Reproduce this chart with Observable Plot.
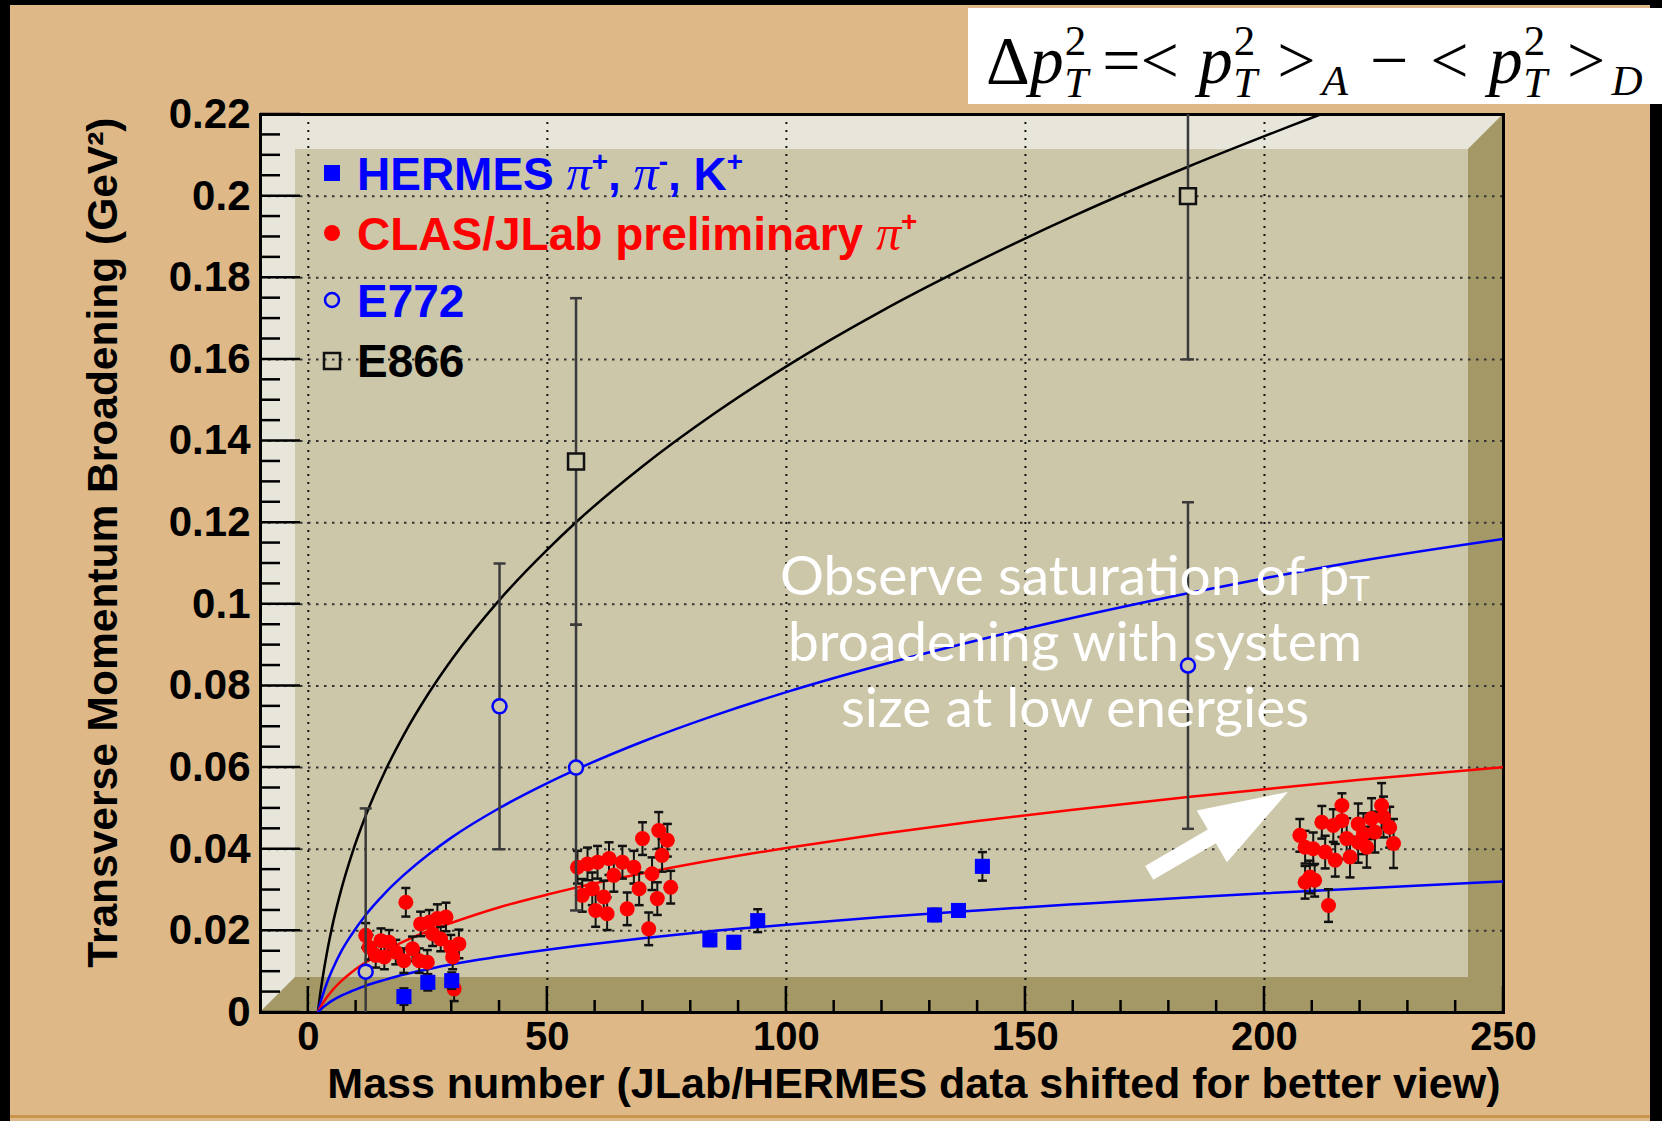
<!DOCTYPE html>
<html>
<head>
<meta charset="utf-8">
<script src="https://cdn.jsdelivr.net/npm/d3@7"></script>
<script src="https://cdn.jsdelivr.net/npm/@observablehq/plot@0.6"></script>
<style>
html, body { margin: 0; padding: 0; background: #000; overflow: hidden; }
#chart svg { display: block; }
</style>
</head>
<body>
<div id="chart"></div>
<script>
// ---------------- data ----------------
const xTicks = [0, 50, 100, 150, 200, 250];
const xTickLabels = ["0", "50", "100", "150", "200", "250"];
const yTicks = [0, 0.02, 0.04, 0.06, 0.08, 0.1, 0.12, 0.14, 0.16, 0.18, 0.2, 0.22];
const yTickLabels = ["0", "0.02", "0.04", "0.06", "0.08", "0.1", "0.12", "0.14", "0.16", "0.18", "0.2", "0.22"];
const xGrid = [0, 50, 100, 150, 200];
const yGrid = [0.02, 0.04, 0.06, 0.08, 0.1, 0.12, 0.14, 0.16, 0.18, 0.2];

const xTitle = "Mass number (JLab/HERMES data shifted for better view)";
const yTitle = "Transverse Momentum Broadening (GeV\u00B2)";

// HERMES pi+, pi-, K+ (blue squares)
const hermesA   = [20, 25, 30, 84, 89, 94, 131, 136, 141];
const hermesY   = [0.0039, 0.0074, 0.0078, 0.0178, 0.0172, 0.0225, 0.0239, 0.0250, 0.0358];
const hermesErr = [0.002, 0.002, 0.002, 0.0015, 0.0015, 0.0028, 0.0015, 0.0015, 0.0035];

// CLAS/JLab preliminary pi+ (red circles)
const clasA = [
  20.4, 12.0, 12.7, 15.2, 16.9, 14.1, 15.9, 18.3, 20.0, 21.8, 23.2, 24.9, 23.5, 25.3, 27.0, 28.8, 26.0, 27.7, 29.8, 31.5, 30.2, 30.5,
  73.3, 69.9, 75.1, 74.0, 56.3, 58.4, 60.5, 62.9, 65.7, 68.1, 63.9, 71.9, 59.4, 57.3, 61.8, 69.2, 75.8, 73.0, 60.1, 62.5, 66.7, 71.2,
  216.2, 212.0, 214.4, 216.2, 219.6, 222.4, 224.5, 224.9, 226.2, 207.4, 208.5, 210.2, 212.7, 214.8, 217.2, 217.9, 219.6, 221.4, 223.1, 227.0, 209.5, 210.5, 208.5, 213.4, 220.7
];
const clasY = [
  0.0270, 0.0189, 0.0160, 0.0176, 0.0172, 0.0140, 0.0136, 0.0148, 0.0127, 0.0156, 0.0127, 0.0123, 0.0217, 0.0221, 0.0230, 0.0234, 0.0193, 0.0180, 0.0160, 0.0168, 0.0136, 0.0058,
  0.0446, 0.0426, 0.0422, 0.0385, 0.0356, 0.0364, 0.0368, 0.0377, 0.0368, 0.0356, 0.0336, 0.0340, 0.0303, 0.0287, 0.0283, 0.0303, 0.0307, 0.0279, 0.0250, 0.0242, 0.0254, 0.0205,
  0.0507, 0.0466, 0.0458, 0.0470, 0.0462, 0.0475, 0.0507, 0.0479, 0.0454, 0.0434, 0.0405, 0.0401, 0.0393, 0.0373, 0.0426, 0.0381, 0.0417, 0.0405, 0.0442, 0.0414, 0.0332, 0.0324, 0.0319, 0.0262, 0.0438
];
const clasErr = [
  0.0035, 0.003, 0.003, 0.003, 0.003, 0.003, 0.003, 0.003, 0.003, 0.003, 0.003, 0.003, 0.003, 0.003, 0.0035, 0.0035, 0.003, 0.003, 0.003, 0.0035, 0.003, 0.003,
  0.0045, 0.004, 0.004, 0.004, 0.004, 0.004, 0.004, 0.004, 0.004, 0.004, 0.004, 0.004, 0.004, 0.004, 0.004, 0.004, 0.004, 0.004, 0.004, 0.004, 0.004, 0.004,
  0.003, 0.004, 0.004, 0.004, 0.005, 0.005, 0.0055, 0.005, 0.005, 0.004, 0.004, 0.004, 0.004, 0.004, 0.005, 0.005, 0.005, 0.005, 0.005, 0.006, 0.004, 0.004, 0.004, 0.004, 0.005
];

// E772 (open blue circles)
const e772A   = [12, 40, 56, 184];
const e772Y   = [0.010, 0.075, 0.060, 0.085];
const e772Err = [0.040, 0.035, 0.035, 0.040];

// E866 (open black squares)
const e866A   = [56, 184];
const e866Y   = [0.135, 0.200];
const e866Err = [0.040, 0.040];

// fitted curves
const fitA      = [2, 2.5, 3, 4, 5, 7, 9, 12, 16, 20, 25, 30, 40, 50, 56, 70, 85, 100, 120, 140, 160, 184, 200, 220, 250];
const fitE772   = [0, 0.0023, 0.0042, 0.0076, 0.0104, 0.0152, 0.0190, 0.0239, 0.0292, 0.0337, 0.0386, 0.0429, 0.0501, 0.0562, 0.0595, 0.0664, 0.0728, 0.0785, 0.0852, 0.0912, 0.0967, 0.1027, 0.1064, 0.1106, 0.1160];
const fitClas   = [0, 0.0012, 0.0022, 0.0039, 0.0054, 0.0078, 0.0098, 0.0123, 0.0150, 0.0174, 0.0199, 0.0220, 0.0258, 0.0289, 0.0306, 0.0341, 0.0374, 0.0403, 0.0438, 0.0469, 0.0497, 0.0528, 0.0547, 0.0570, 0.0601];
const fitHermes = [0, 0.0006, 0.0012, 0.0021, 0.0029, 0.0042, 0.0052, 0.0066, 0.0080, 0.0093, 0.0106, 0.0118, 0.0137, 0.0154, 0.0163, 0.0182, 0.0200, 0.0215, 0.0234, 0.0250, 0.0265, 0.0282, 0.0292, 0.0304, 0.0321];
const fitBlackA = [2, 2.5, 3, 4, 5, 7, 9, 12, 16, 20, 25, 30, 40, 50, 56, 70, 85, 100, 120, 140, 160, 184, 200, 211, 216];
const fitBlack  = [0, 0.0046, 0.0085, 0.0153, 0.0211, 0.0306, 0.0384, 0.0482, 0.0590, 0.0681, 0.0779, 0.0865, 0.1011, 0.1134, 0.1201, 0.1339, 0.1468, 0.1583, 0.1719, 0.1840, 0.1951, 0.2072, 0.2147, 0.2197, 0.2220];

// annotation arrow (data coordinates: tail -> tip)
const arrowFrom = [176, 0.0341];
const arrowTo   = [205, 0.0539];

// ---------------- tables ----------------
const rows = (a, y, e) => a.map((v, i) => ({a: v, y: y[i], lo: y[i] - e[i], hi: y[i] + e[i]}));
const hermes = rows(hermesA, hermesY, hermesErr);
const clas = rows(clasA, clasY, clasErr);
const e772 = rows(e772A, e772Y, e772Err);
const e866 = rows(e866A, e866Y, e866Err);
const curve = (a, v) => a.map((x, i) => ({a: x, v: v[i]}));

// ---------------- style ----------------
const TAN = "#DEB887", KHAKI = "#CDC7AA", LIGHT = "#E8E6DA", DARK = "#A39866";
const BLUE = "#0000FF", RED = "#FF0000";
const SANS = "'Liberation Sans', Arial, Helvetica, sans-serif";
const SERIF = "'Liberation Serif', 'Times New Roman', serif";
const HUMANIST = "Lato, 'Open Sans', sans-serif";

const cap = (w) => ({draw(ctx) { ctx.moveTo(-w, 0); ctx.lineTo(w, 0); }});

function backdrop(index, scales, values, dim) {
  const {width, height, marginLeft: L, marginTop: T} = dim;
  const R = width - dim.marginRight, B = height - dim.marginBottom, b = 35;
  const g = d3.create("svg:g");
  g.append("rect").attr("x", 10).attr("y", 5).attr("width", width - 22).attr("height", height - 5).attr("fill", TAN);
  g.append("rect").attr("x", 10).attr("y", height - 6).attr("width", width - 22).attr("height", 3).attr("fill", "#C9954A");
  g.append("rect").attr("x", L).attr("y", T).attr("width", R - L).attr("height", B - T).attr("fill", KHAKI);
  g.append("polygon").attr("points", [[L, T], [R, T], [R - b, T + b], [L + b, T + b], [L + b, B - b], [L, B]].join(" ")).attr("fill", LIGHT);
  g.append("polygon").attr("points", [[L, B], [L + b, B - b], [R - b, B - b], [R - b, T + b], [R, T], [R, B]].join(" ")).attr("fill", DARK);
  return g.node();
}

function innerTicks(index, {x, y}, values, dim) {
  const L = dim.marginLeft, B = dim.height - dim.marginBottom;
  const g = d3.create("svg:g").attr("stroke", "#000").attr("stroke-width", 2.5);
  for (const v of d3.range(0, 0.2201, 0.005)) {
    const major = yTicks.some((t) => Math.abs(t - v) < 1e-6);
    g.append("line").attr("x1", L).attr("x2", L + (major ? 40 : 20)).attr("y1", y(v)).attr("y2", y(v));
  }
  for (const v of d3.range(0, 251, 10)) {
    const major = xTicks.includes(v);
    g.append("line").attr("x1", x(v)).attr("x2", x(v)).attr("y1", B).attr("y2", B - (major ? 26 : 12));
  }
  return g.node();
}

function rich(g, x, y, parts, attrs) {
  const t = g.append("text").attr("x", x).attr("y", y).attr("text-anchor", "start");
  for (const [k, v] of Object.entries(attrs)) t.attr(k, v);
  for (const p of parts) {
    const s = t.append("tspan").text(p.t);
    for (const [k, v] of Object.entries(p)) if (k !== "t") s.attr(k, v);
  }
  return t;
}

function overlay(index, {x, y}, values, dim) {
  const {width, marginLeft: L, marginTop: T} = dim;
  const g = d3.create("svg:g");

  // legend
  const lx = L + 72, tx = L + 97;
  const legendFont = {"font-family": SANS, "font-weight": "bold", "font-size": 46};
  const pi = {"font-family": SERIF, "font-style": "italic", "font-weight": "normal", "font-size": 50};
  const sup = {"font-size": 28, dy: -19};
  g.append("rect").attr("x", lx - 8).attr("y", T + 59 - 8).attr("width", 16).attr("height", 16).attr("fill", BLUE);
  rich(g, tx, T + 76, [
    {t: "HERMES "}, {t: "\u03C0", ...pi}, {t: "+", ...sup}, {t: ", ", dy: 19},
    {t: "\u03C0", ...pi}, {t: "-", ...sup}, {t: ", K", dy: 19}, {t: "+", ...sup}
  ], {...legendFont, fill: BLUE});
  g.append("circle").attr("cx", lx).attr("cy", T + 119).attr("r", 8).attr("fill", RED);
  rich(g, tx, T + 136, [
    {t: "CLAS/JLab preliminary "}, {t: "\u03C0", ...pi}, {t: "+", ...sup}
  ], {...legendFont, fill: RED});
  g.append("circle").attr("cx", lx).attr("cy", T + 186).attr("r", 7).attr("fill", "none").attr("stroke", BLUE).attr("stroke-width", 2.5);
  rich(g, tx, T + 203, [{t: "E772"}], {...legendFont, fill: BLUE});
  g.append("rect").attr("x", lx - 8).attr("y", T + 247 - 8).attr("width", 16).attr("height", 16).attr("fill", "none").attr("stroke", "#111").attr("stroke-width", 2.5);
  rich(g, tx, T + 263, [{t: "E866"}], {...legendFont, fill: "#000"});

  // arrow
  const [x0, y0] = [x(arrowFrom[0]), y(arrowFrom[1])];
  const [x1, y1] = [x(arrowTo[0]), y(arrowTo[1])];
  const len = Math.hypot(x1 - x0, y1 - y0), ux = (x1 - x0) / len, uy = (y1 - y0) / len;
  const nx = -uy, ny = ux, head = 88, hw = 30, sw = 8;
  const bx = x1 - ux * head, by = y1 - uy * head;
  g.append("polygon").attr("fill", "#fff").attr("points", [
    [x0 + nx * sw, y0 + ny * sw], [bx + nx * sw, by + ny * sw], [bx + nx * hw, by + ny * hw], [x1, y1],
    [bx - nx * hw, by - ny * hw], [bx - nx * sw, by - ny * sw], [x0 - nx * sw, y0 - ny * sw]
  ].join(" "));

  // annotation text
  const ax = L + 815;
  const note = {"font-family": HUMANIST, "font-size": 55, fill: "#fff"};
  rich(g, ax, T + 481, [{t: "Observe saturation of p"}, {t: "T", "font-size": 35, dy: 6}], note).attr("text-anchor", "middle");
  rich(g, ax, T + 547, [{t: "broadening with system"}], note).attr("text-anchor", "middle");
  rich(g, ax, T + 613, [{t: "size at low energies"}], note).attr("text-anchor", "middle");

  // formula box
  g.append("rect").attr("x", 968).attr("y", 8).attr("width", width - 968).attr("height", 96).attr("fill", "#fff");
  const F = {"font-family": SERIF, "font-size": 68, fill: "#000"};
  const it = {"font-style": "italic"};
  const two = () => [
    {t: "2", "font-size": 43, dy: -28, dx: 1},
    {t: "T", "font-size": 43, ...it, dx: -22, dy: 42}
  ];
  rich(g, 986, 83, [
    {t: "\u0394"}, {t: "p", ...it}, ...two(),
    {t: "=<", "font-size": 68, dy: -14, dx: 14},
    {t: "p", ...it, dx: 20}, ...two(),
    {t: ">", "font-size": 68, dy: -14, dx: 20},
    {t: "A", "font-size": 43, ...it, dy: 12, dx: 6},
    {t: "\u2212", "font-size": 68, dy: -12, dx: 22},
    {t: "<", dx: 22},
    {t: "p", ...it, dx: 20}, ...two(),
    {t: ">", "font-size": 68, dy: -14, dx: 20},
    {t: "D", "font-size": 43, ...it, dy: 12, dx: 6}
  ], F);
  return g.node();
}

// ---------------- chart ----------------
const chart = Plot.plot({
  width: 1662,
  height: 1121,
  marginLeft: 260,
  marginRight: 159,
  marginTop: 114,
  marginBottom: 109,
  x: {domain: [-10, 250], axis: null},
  y: {domain: [0, 0.22], axis: null},
  style: {background: "#000", fontFamily: SANS, overflow: "visible"},
  marks: [
    backdrop,
    Plot.ruleX(xGrid, {stroke: "#111", strokeWidth: 2, strokeDasharray: "2,6"}),
    Plot.ruleY(yGrid, {stroke: "#333", strokeWidth: 2, strokeDasharray: "2.5,5.5"}),
    innerTicks,
    Plot.frame({stroke: "#000", strokeWidth: 3}),

    Plot.line(curve(fitBlackA, fitBlack), {x: "a", y: "v", stroke: "#000", strokeWidth: 2.5, curve: "monotone-x", clip: true}),
    Plot.line(curve(fitA, fitE772), {x: "a", y: "v", stroke: BLUE, strokeWidth: 2.5, curve: "monotone-x", clip: true}),
    Plot.line(curve(fitA, fitClas), {x: "a", y: "v", stroke: RED, strokeWidth: 2.5, curve: "monotone-x", clip: true}),
    Plot.line(curve(fitA, fitHermes), {x: "a", y: "v", stroke: BLUE, strokeWidth: 2.5, curve: "monotone-x", clip: true}),

    Plot.ruleX(clas, {x: "a", y1: "lo", y2: "hi", stroke: "#111", strokeWidth: 2, clip: true}),
    Plot.dot(clas, {x: "a", y: "lo", symbol: cap(4.5), fill: "none", stroke: "#111", strokeWidth: 2.5, clip: true}),
    Plot.dot(clas, {x: "a", y: "hi", symbol: cap(4.5), fill: "none", stroke: "#111", strokeWidth: 2.5, clip: true}),
    Plot.dot(clas, {x: "a", y: "y", r: 7.5, fill: RED}),

    Plot.ruleX(hermes, {x: "a", y1: "lo", y2: "hi", stroke: "#111", strokeWidth: 2, clip: true}),
    Plot.dot(hermes, {x: "a", y: "lo", symbol: cap(4.5), fill: "none", stroke: "#111", strokeWidth: 2.5, clip: true}),
    Plot.dot(hermes, {x: "a", y: "hi", symbol: cap(4.5), fill: "none", stroke: "#111", strokeWidth: 2.5, clip: true}),
    Plot.dot(hermes, {x: "a", y: "y", symbol: "square", r: 8.5, fill: BLUE}),

    Plot.ruleX(e772, {x: "a", y1: "lo", y2: "hi", stroke: "#3a3a3a", strokeWidth: 2.5, clip: true}),
    Plot.dot(e772, {x: "a", y: "lo", symbol: cap(6), fill: "none", stroke: "#3a3a3a", strokeWidth: 2.5, clip: true}),
    Plot.dot(e772, {x: "a", y: "hi", symbol: cap(6), fill: "none", stroke: "#3a3a3a", strokeWidth: 2.5, clip: true}),
    Plot.dot(e772, {x: "a", y: "y", r: 7, fill: KHAKI, stroke: BLUE, strokeWidth: 2.5}),

    Plot.ruleX(e866, {x: "a", y1: "lo", y2: "hi", stroke: "#3a3a3a", strokeWidth: 2.5, clip: true}),
    Plot.dot(e866, {x: "a", y: "lo", symbol: cap(6), fill: "none", stroke: "#3a3a3a", strokeWidth: 2.5, clip: true}),
    Plot.dot(e866, {x: "a", y: "hi", symbol: cap(6), fill: "none", stroke: "#3a3a3a", strokeWidth: 2.5, clip: true}),
    Plot.dot(e866, {x: "a", y: "y", symbol: "square", r: 9, fill: KHAKI, stroke: "#111", strokeWidth: 2.5}),

    Plot.text(yTicks, {y: (d) => d, text: (d, i) => yTickLabels[i], frameAnchor: "left", textAnchor: "end", dx: -10, fontSize: 42, fontWeight: "bold", fill: "#000"}),
    Plot.text(xTicks, {x: (d) => d, text: (d, i) => xTickLabels[i], frameAnchor: "bottom", lineAnchor: "top", dy: 9, fontSize: 40, fontWeight: "bold", fill: "#000"}),
    Plot.text([xTitle], {text: (d) => d, frameAnchor: "bottom-right", textAnchor: "end", lineAnchor: "middle", dx: -3, dy: 72, fontSize: 43, fontWeight: "bold", fill: "#000"}),
    Plot.text([yTitle], {text: (d) => d, frameAnchor: "top-left", textAnchor: "end", lineAnchor: "middle", rotate: -90, dx: -157, dy: 3, fontSize: 42.5, fontWeight: "bold", fill: "#000"}),

    overlay
  ]
});
document.getElementById("chart").append(chart);
</script>
</body>
</html>
